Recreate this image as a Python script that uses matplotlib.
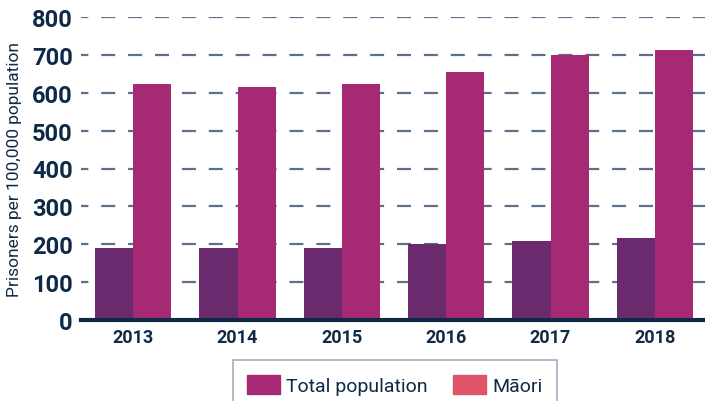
import numpy as np
import matplotlib.pyplot as plt
from matplotlib.patches import Patch

years = ['2013', '2014', '2015', '2016', '2017', '2018']
total = [190, 190, 190, 200, 208, 216]
maori = [623, 615, 623, 655, 700, 712]

navy = '#0f2a47'
plt.rcParams['font.family'] = ['Roboto', 'DejaVu Sans']

fig = plt.figure(figsize=(7.05, 4.02), dpi=100)
ax = fig.add_axes([81 / 705, 1 - 321 / 402, 626 / 705, 303 / 402])

x = np.arange(len(years))
w = 0.365
ax.bar(x - w / 2, total, w, color='#6b2a6e', zorder=3)
ax.bar(x + w / 2, maori, w, color='#a52a73', zorder=3)

ax.set_xlim(-0.5, len(years) - 0.5)
ax.set_ylim(0, 800)
ax.set_yticks(range(0, 801, 100))
ax.set_xticks(x)
ax.set_xticklabels(years)
ax.yaxis.grid(True, linestyle=(3, (6.3, 5.8)), color='#5c6f8c', linewidth=1.6, zorder=0)

for s in ['top', 'right', 'left']:
    ax.spines[s].set_visible(False)
ax.spines['bottom'].set_color(navy)
ax.spines['bottom'].set_linewidth(3)
ax.spines['bottom'].set_zorder(4)
ax.tick_params(axis='both', length=0, colors=navy)
ax.tick_params(axis='y', pad=6)
ax.tick_params(axis='x', pad=6)
for lbl in ax.get_yticklabels():
    lbl.set_fontsize(17)
    lbl.set_fontweight('bold')
for lbl in ax.get_xticklabels():
    lbl.set_fontsize(13)
    lbl.set_fontweight('bold')

ax.set_ylabel('Prisoners per 100,000 population', fontsize=12.5, color=navy, labelpad=6)
ax.yaxis.set_label_coords(-0.095, 0.5)

handles = [Patch(color='#a52a73', label='Total population'),
           Patch(color='#e05468', label='Māori')]
leg = fig.legend(handles=handles, loc='upper center', bbox_to_anchor=(0.56, 0.125),
                 ncol=2, frameon=True, fancybox=False, fontsize=14,
                 handlelength=1.7, handleheight=1.1, handletextpad=0.3,
                 columnspacing=1.3, borderpad=0.75, labelcolor=navy)
leg.get_frame().set_edgecolor('#8a9ab0')
leg.get_frame().set_linewidth(1.2)

fig.savefig('out.png', dpi=100)
